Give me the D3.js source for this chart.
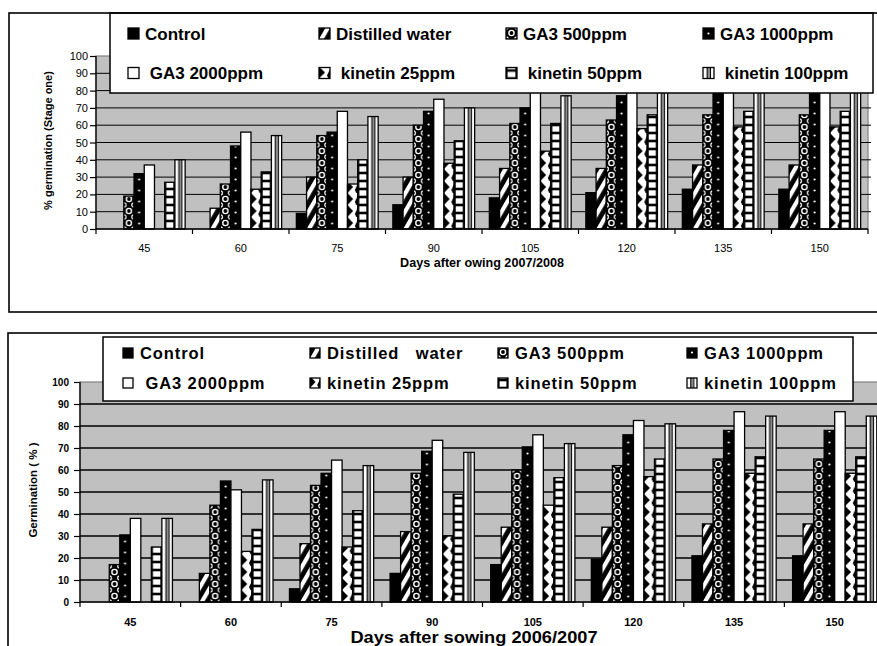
<!DOCTYPE html>
<html><head><meta charset="utf-8">
<script src="https://cdn.jsdelivr.net/npm/d3@7"></script>
<style>
body{margin:0;background:#fff}
svg{display:block}
text{font-family:"Liberation Sans",Arial,Helvetica,sans-serif}
</style>
</head><body>
<svg id="c" width="877" height="646"></svg>
<script>
// ---------- data ----------
const days = ["45","60","75","90","105","120","135","150"];
const yTicks = [0,10,20,30,40,50,60,70,80,90,100];
const legendTop = ["Control","Distilled water","GA3 500ppm","GA3 1000ppm"," GA3 2000ppm"," kinetin 25ppm"," kinetin 50ppm"," kinetin 100ppm"];
const legendBottom = ["Control","Distilled   water","GA3 500ppm","GA3 1000ppm"," GA3 2000ppm","kinetin 25ppm","kinetin 50ppm","kinetin 100ppm"];

// Stage one, 2007/2008 (upper chart)
const s1Control   = [0, 0, 9, 14, 18, 21, 23, 23];
const s1Distilled = [0, 12, 30, 30, 35, 35, 37, 37];
const s1GA500     = [19, 26, 54, 60, 61, 63, 66, 66];
const s1GA1000    = [32, 48, 56, 68, 70, 77, 80, 80];
const s1GA2000    = [37, 56, 68, 75, 82, 85, 88, 88];
const s1Kin25     = [0, 23, 26, 38, 45, 58, 59, 59];
const s1Kin50     = [27, 33, 40, 51, 61, 66, 68, 68];
const s1Kin100    = [40, 54, 65, 70, 77, 82, 85, 85];

// 2006/2007 (lower chart)
const s2Control   = [0, 0, 6, 13, 17, 19.5, 21, 21];
const s2Distilled = [0, 13, 26.5, 32, 34, 34, 35.5, 35.5];
const s2GA500     = [17, 44, 53, 58.5, 60, 62, 65, 65];
const s2GA1000    = [30.5, 55, 58.5, 68.5, 70.5, 76, 78, 78];
const s2GA2000    = [38, 51, 64.5, 73.5, 76, 82.5, 86.5, 86.5];
const s2Kin25     = [0, 23, 25, 30, 44, 57, 58.5, 58.5];
const s2Kin50     = [25, 33, 41.5, 49, 56.5, 65, 66, 66];
const s2Kin100    = [38, 55.5, 62, 68, 72, 81, 84.5, 84.5];

// ---------- drawing ----------
const svg = d3.select("#c");
const defs = svg.append("defs");
let pid = 0;

function patternFor(type, x, y, w) {
  if (type === 0) return "#000";
  if (type === 4) return "#fff";
  const id = "pt" + (pid++);
  if (type === 1) {
    const p = defs.append("pattern").attr("id", id).attr("patternUnits", "userSpaceOnUse")
      .attr("width", 9).attr("height", 9)
      .attr("patternTransform", `translate(${x},${y}) rotate(30)`);
    p.append("rect").attr("width", 9).attr("height", 9).attr("fill", "#000");
    p.append("rect").attr("width", 4.2).attr("height", 9).attr("fill", "#fff");
    return `url(#${id})`;
  }
  const h = {2: 12, 3: 11, 5: 12, 6: 8, 7: 4}[type];
  const p = defs.append("pattern").attr("id", id).attr("patternUnits", "userSpaceOnUse")
    .attr("x", x).attr("y", y).attr("width", w).attr("height", h);
  if (type === 2) {
    p.append("rect").attr("width", w).attr("height", h).attr("fill", "#000");
    p.append("circle").attr("cx", w / 2).attr("cy", h / 2).attr("r", 2.6)
      .attr("fill", "none").attr("stroke", "#fff").attr("stroke-width", 1.4);
    [[0, 0], [w, 0], [0, h], [w, h]].forEach(([cx, cy]) =>
      p.append("circle").attr("cx", cx).attr("cy", cy).attr("r", 2.2)
        .attr("fill", "none").attr("stroke", "#fff").attr("stroke-width", 1.2));
  } else if (type === 3) {
    p.append("rect").attr("width", w).attr("height", h).attr("fill", "#000");
    p.append("circle").attr("cx", w / 2).attr("cy", h / 2).attr("r", 1.1).attr("fill", "#fff");
  } else if (type === 5) {
    p.append("rect").attr("width", w).attr("height", h).attr("fill", "#fff");
    p.append("polygon").attr("points", `0,0 ${w * 0.55},${h / 2} 0,${h}`).attr("fill", "#000");
    p.append("polygon").attr("points", `${w},${h / 2 - 3} ${w * 0.72},${h / 2 + 3} ${w},${h / 2 + 9}`).attr("fill", "#000");
  } else if (type === 6) {
    p.append("rect").attr("width", w).attr("height", h).attr("fill", "#000");
    p.append("rect").attr("x", 1.6).attr("y", 1.3).attr("width", Math.max(1, w - 3.2)).attr("height", h - 2.6).attr("fill", "#fff");
  } else if (type === 7) {
    p.append("rect").attr("width", w).attr("height", h).attr("fill", "#fff");
    p.append("rect").attr("x", w * 0.36).attr("width", w * 0.28).attr("height", h).attr("fill", "#8c8c8c");
    p.append("rect").attr("x", w * 0.33).attr("width", 1).attr("height", h).attr("fill", "#000");
    p.append("rect").attr("x", w * 0.64).attr("width", 1).attr("height", h).attr("fill", "#000");
  }
  return `url(#${id})`;
}

const panels = [
  {
    series: [s1Control, s1Distilled, s1GA500, s1GA1000, s1GA2000, s1Kin25, s1Kin50, s1Kin100],
    frame: {x: 9, y: 13, w: 910, h: 299},
    plot: {l: 96, r: 868, t: 56, b: 229},
    outerPad: 0.72,
    gridW: 1,
    tickFont: {size: 11, weight: "normal"},
    tickX: 88,
    xLabelY: 252,
    xLabelFont: {size: 11, weight: "normal"},
    xTitle: "Days after owing 2007/2008", xTitleY: 267, xTitleSize: 12, xTitleScale: 1.05,
    yTitle: "% germination (Stage one)", yTitleX: 48, yTitleSize: 11,
    legend: {x: 110, y: 13, w: 763, h: 80, rows: [33.5, 73], cols: [128, 319, 506, 703],
             mark: 11, gap: 17, size: 17, spacing: 0, labels: legendTop}
  },
  {
    series: [s2Control, s2Distilled, s2GA500, s2GA1000, s2GA2000, s2Kin25, s2Kin50, s2Kin100],
    frame: {x: 8, y: 333, w: 910, h: 340},
    plot: {l: 80, r: 885, t: 382, b: 602},
    outerPad: 0.78,
    gridW: 1.4,
    tickFont: {size: 10, weight: "bold"},
    tickX: 69,
    xLabelY: 626,
    xLabelFont: {size: 11, weight: "bold"},
    xTitle: "Days after sowing 2006/2007", xTitleY: 642.5, xTitleSize: 16, xTitleScale: 1.14,
    yTitle: "Germination ( % )", yTitleX: 33, yTitleSize: 11.5,
    legend: {x: 103, y: 337, w: 750, h: 64, rows: [353, 383], cols: [123, 310, 498, 687],
             mark: 10, gap: 17, size: 16.5, spacing: 0.9, labels: legendBottom}
  }
];

panels.forEach(P => {
  const g = svg.append("g");
  const x = d3.scaleBand().domain(days).range([P.plot.l, P.plot.r]);
  const xi = d3.scaleBand().domain(d3.range(8)).range([0, x.bandwidth()]).paddingOuter(P.outerPad);
  const y = d3.scaleLinear().domain([0, 100]).range([P.plot.b, P.plot.t]);

  // plot background
  g.append("rect").attr("x", P.plot.l).attr("y", y(100))
    .attr("width", P.plot.r - P.plot.l).attr("height", y(0) - y(100))
    .attr("fill", "#c0c0c0").attr("stroke", "#808080").attr("stroke-width", 1.2);

  // gridlines
  g.selectAll(".grid").data(yTicks.filter(t => t > 0 && t < 100)).enter().append("line")
    .attr("x1", P.plot.l).attr("x2", P.plot.r + 3)
    .attr("y1", d => y(d)).attr("y2", d => y(d))
    .attr("stroke", "#000").attr("stroke-width", P.gridW);

  // bars
  P.series.forEach((vals, s) => {
    vals.forEach((v, c) => {
      if (v <= 0) return;
      const bx = x(days[c]) + xi(s);
      const w = xi.bandwidth();
      g.append("rect")
        .attr("x", bx).attr("y", y(v))
        .attr("width", w).attr("height", y(0) - y(v))
        .attr("fill", patternFor(s, bx, y(0), w))
        .attr("stroke", "#000").attr("stroke-width", 1.3);
    });
  });

  // y axis
  const ya = g.append("g").attr("transform", `translate(${P.plot.l},0)`)
    .call(d3.axisLeft(y).tickValues(yTicks).tickSize(6).tickFormat(d3.format("d")));
  ya.select(".domain").attr("stroke", "#000").attr("stroke-width", 1.3).attr("d", `M0,${y(100)}V${y(0)}`);
  ya.selectAll(".tick line").attr("stroke", "#000").attr("stroke-width", 1.2);
  ya.selectAll(".tick text").attr("x", P.tickX - P.plot.l).attr("fill", "#000")
    .style("font-size", P.tickFont.size + "px").style("font-weight", P.tickFont.weight)
    .style("font-family", '"Liberation Sans",Arial,sans-serif');

  // x axis
  g.append("line").attr("x1", P.plot.l).attr("x2", P.plot.r).attr("y1", y(0)).attr("y2", y(0))
    .attr("stroke", "#000").attr("stroke-width", 1.4);
  const bounds = days.map(d => x(d)).concat([P.plot.r]);
  g.selectAll(".xt").data(bounds).enter().append("line")
    .attr("x1", d => d).attr("x2", d => d).attr("y1", y(0)).attr("y2", y(0) + 5)
    .attr("stroke", "#000").attr("stroke-width", 1.2);
  g.selectAll(".xl").data(days).enter().append("text")
    .attr("x", d => x(d) + x.bandwidth() / 2).attr("y", P.xLabelY)
    .attr("text-anchor", "middle")
    .style("font-size", P.xLabelFont.size + "px").style("font-weight", P.xLabelFont.weight)
    .text(d => d);

  // axis titles
  g.append("text")
    .attr("transform", `translate(${(P.plot.l + Math.min(P.plot.r, 868)) / 2 + 0},${P.xTitleY}) scale(${P.xTitleScale},1)`)
    .attr("text-anchor", "middle").style("font-size", P.xTitleSize + "px").style("font-weight", "bold")
    .text(P.xTitle);
  g.append("text")
    .attr("transform", `translate(${P.yTitleX},${(y(0) + y(100)) / 2 - 2}) rotate(-90)`)
    .attr("text-anchor", "middle").attr("dy", "0.35em")
    .style("font-size", P.yTitleSize + "px").style("font-weight", "bold")
    .text(P.yTitle);

  // legend
  const L = P.legend;
  g.append("rect").attr("x", L.x).attr("y", L.y).attr("width", L.w).attr("height", L.h)
    .attr("fill", "#fff").attr("stroke", "#000").attr("stroke-width", 1.5);
  L.labels.forEach((lab, i) => {
    const r = Math.floor(i / 4), c = i % 4;
    const mx = L.cols[c], my = L.rows[r] - L.mark / 2;
    g.append("rect").attr("x", mx).attr("y", my).attr("width", L.mark).attr("height", L.mark)
      .attr("fill", patternFor(i, mx, my + L.mark, L.mark))
      .attr("stroke", "#000").attr("stroke-width", 1.3);
    g.append("text").attr("x", mx + L.gap).attr("y", L.rows[r]).attr("dy", "0.36em")
      .style("font-size", L.size + "px").style("font-weight", "bold")
      .style("letter-spacing", L.spacing + "px").style("white-space", "pre")
      .attr("xml:space", "preserve")
      .text(lab);
  });

  // outer frame
  g.append("rect").attr("x", P.frame.x).attr("y", P.frame.y).attr("width", P.frame.w).attr("height", P.frame.h)
    .attr("fill", "none").attr("stroke", "#000").attr("stroke-width", 1.6);
});
</script>
</body></html>
